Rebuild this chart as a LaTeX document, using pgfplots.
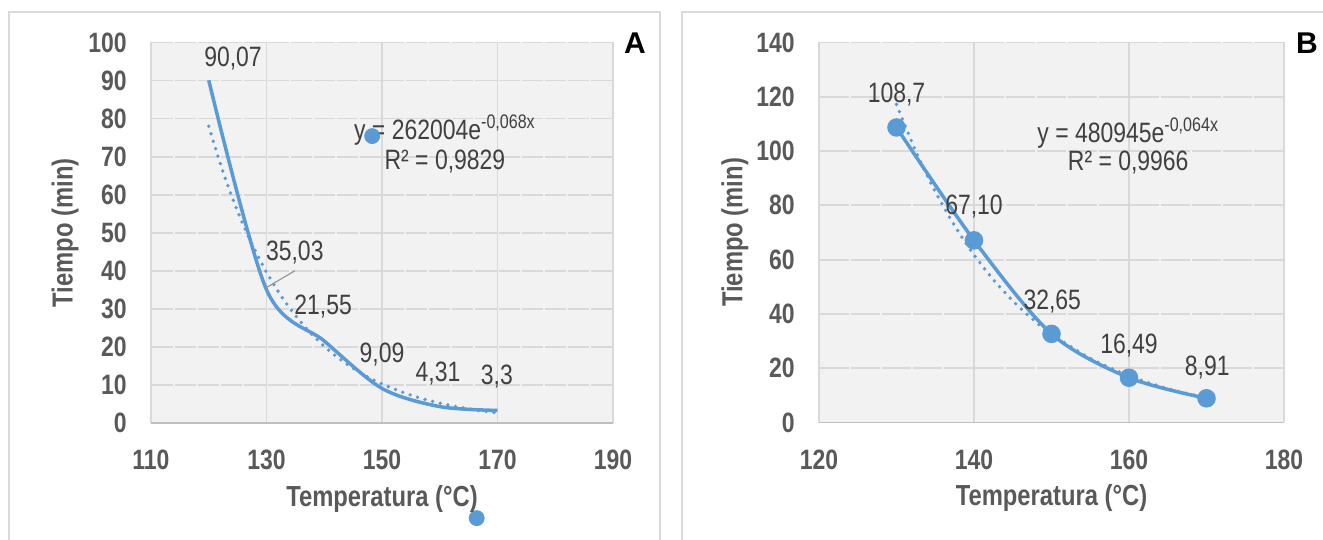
\documentclass[border=0pt]{standalone}
\usepackage{fontspec}
\setmainfont{Liberation Sans}[FakeStretch=0.82]
\newfontfamily\panelfont{Liberation Sans}
\usepackage{pgfplots}
\pgfplotsset{compat=1.18}
\definecolor{xlblue}{HTML}{5B9BD5}
\definecolor{gridc}{HTML}{D9D9D9}
\definecolor{plotbg}{HTML}{F2F2F2}
\definecolor{txt}{HTML}{404040}
\definecolor{tickc}{HTML}{595959}
\definecolor{axisc}{HTML}{BFBFBF}
\newcommand{\lblfont}{\fontsize{14}{14}\selectfont}

\pgfplotsset{
  xlchart/.style={
    scale only axis, anchor=south west, clip=false,
    axis background/.style={fill=plotbg},
    axis line style={draw=none},
    major tick length=0pt,
    grid=major,
    x grid style={gridc, line width=0.9pt},
    /pgf/number format/assume math mode=true,
    /pgf/number format/1000 sep={},
    ticklabel style={font=\fontsize{14}{14}\selectfont\bfseries, text=tickc, inner sep=0pt},
    xticklabel style={anchor=center, yshift=-18.5pt},
    yticklabel style={anchor=east, xshift=-12pt},
    label style={font=\fontsize{14.5}{14.5}\selectfont\bfseries, text=tickc},
    xlabel={Temperatura (°C)},
    ylabel={Tiempo (min)},
    xlabel style={anchor=center, at={(axis description cs:0.5,-0.2)}},
    ylabel style={anchor=center},
  },
  dataline/.style={xlblue, line width=1.75pt, smooth},
  trendline/.style={xlblue, line width=1.9pt, line cap=round,
    dash pattern=on 0pt off 3.9pt, smooth},
}

\begin{document}
\begin{tikzpicture}
\useasboundingbox (0,0) rectangle (661.5pt,270pt);
% panel frames
\draw[gridc, line width=0.8pt, fill=white] (4.5pt,264pt) rectangle (330pt,-10pt);
\draw[gridc, line width=0.8pt, fill=white] (341pt,264pt) rectangle (675pt,-10pt);

% ---------- Panel A ----------
\begin{axis}[xlchart,
  at={(75.5pt,58.5pt)}, width=231pt, height=190.25pt,
  xmin=110, xmax=190, ymin=0, ymax=100,
  xtick={110,130,150,170,190},
  ytick={0,10,...,100},
  y grid style={gridc, line width=0.9pt, dash pattern=on 10.55pt off 1pt, dash phase=11.05pt},
  ylabel style={at={(axis description cs:-0.186,0.5)}},
]
\addplot[trendline] coordinates {
  (120,77.97)(122.5,65.85)(125,55.60)(127.5,46.95)(130,39.64)(132.5,33.47)
  (135,28.26)(137.5,23.87)(140,20.15)(142.5,17.02)(145,14.37)(147.5,12.13)
  (150,10.24)(155,7.30)(160,5.21)(165,3.71)(170,2.65)};
\addplot[dataline] coordinates {
  (120,90.07)(130,35.03)(140,21.55)(150,9.09)(160,4.31)(170,3.3)};
\addplot[only marks, mark=*, mark size=3.75pt, xlblue] coordinates {
  (148.3,75.4)(166.4,-25.0)};
\draw[axisc, line width=0.9pt] (rel axis cs:0,0) -- (rel axis cs:1,0);
\draw[gray!80, line width=0.6pt] (axis cs:134.9,40.0) -- (axis cs:129.9,35.5);
\begin{scope}[every node/.style={font=\lblfont, text=txt, inner sep=0pt}]
\node at (axis cs:124.2,95.9) {90,07};
\node at (axis cs:134.9,44.9) {35,03};
\node at (axis cs:139.8,30.5) {21,55};
\node at (axis cs:150.0,17.9) {9,09};
\node at (axis cs:159.7,13.1) {4,31};
\node at (axis cs:169.9,12.1) {3,3};
\node at (axis cs:160.9,77.0) {y = 262004e\textsuperscript{-0,068x}};
\node at (axis cs:160.9,68.6) {R² = 0,9829};
\end{scope}
\end{axis}

% ---------- Panel B ----------
\begin{axis}[xlchart,
  at={(409.5pt,58.75pt)}, width=232.5pt, height=190pt,
  xmin=120, xmax=180, ymin=0, ymax=140,
  xtick={120,140,160,180},
  ytick={0,20,...,140},
  y grid style={gridc, line width=0.9pt, dash pattern=on 14.5pt off 1pt, dash phase=15pt},
  ylabel style={at={(axis description cs:-0.181,0.5)}},
]
\addplot[trendline] coordinates {
  (130,117.2)(132.5,99.83)(135,85.07)(137.5,72.49)(140,61.78)(142.5,52.64)
  (145,44.86)(147.5,38.22)(150,32.57)(155,23.65)(160,17.18)(165,12.47)(170,9.06)};
\addplot[dataline, mark=*, mark size=3.75pt, mark options={solid}] coordinates {
  (130,108.7)(140,67.10)(150,32.65)(160,16.49)(170,8.91)};
\draw[axisc, line width=0.9pt] (rel axis cs:0,0) -- (rel axis cs:1,0);
\begin{scope}[every node/.style={font=\lblfont, text=txt, inner sep=0pt}]
\node at (axis cs:130.0,120.7) {108,7};
\node at (axis cs:140.0,79.4) {67,10};
\node at (axis cs:150.1,44.4) {32,65};
\node at (axis cs:160.0,28.5) {16,49};
\node at (axis cs:170.1,20.4) {8,91};
\node at (axis cs:159.9,106.7) {y = 480945e\textsuperscript{-0,064x}};
\node at (axis cs:159.9,95.6) {R² = 0,9966};
\end{scope}
\end{axis}

\node[font=\panelfont\fontsize{15}{15}\selectfont\bfseries, inner sep=0pt] at (317.5pt,248.5pt) {A};
\node[font=\panelfont\fontsize{15}{15}\selectfont\bfseries, inner sep=0pt] at (653.5pt,248.5pt) {B};
\end{tikzpicture}
\end{document}
